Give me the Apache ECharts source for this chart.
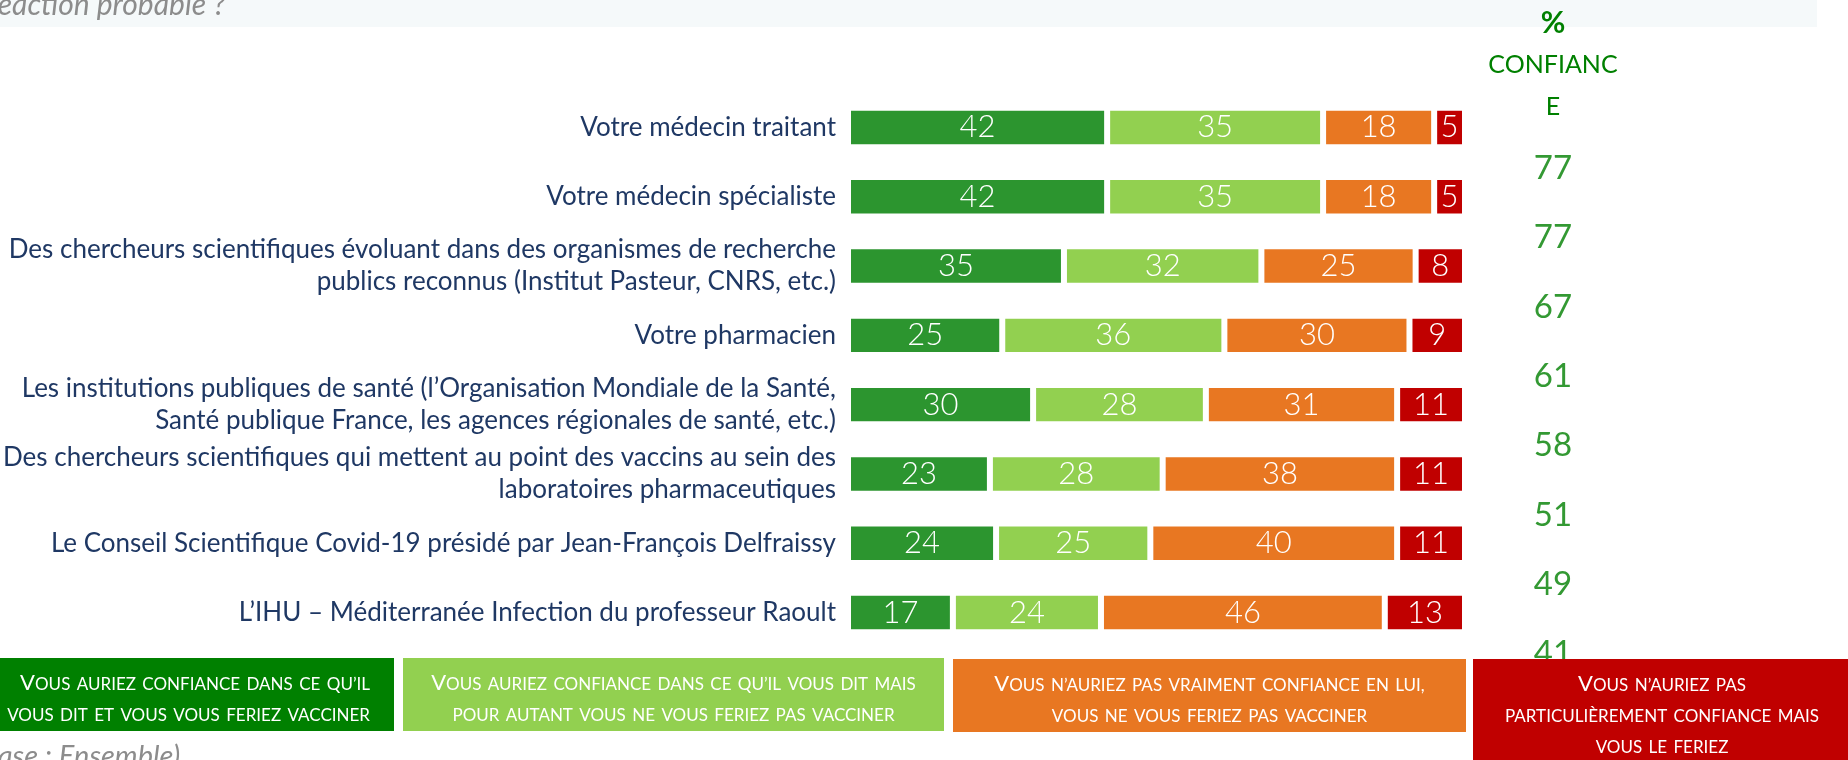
<!DOCTYPE html>
<html>
<head>
<meta charset="utf-8">
<script src="https://cdn.jsdelivr.net/npm/echarts@6/dist/echarts.min.js"></script>
<style>
  html, body { margin: 0; padding: 0; background: #fff; }
  #chart { width: 1848px; height: 760px; }
</style>
</head>
<body>
<div id="chart"></div>
<script>
// categories, top to bottom
const categories = [
  'Votre médecin traitant',
  'Votre médecin spécialiste',
  'Des chercheurs scientifiques évoluant dans des organismes de recherche\npublics reconnus (Institut Pasteur, CNRS, etc.)',
  'Votre pharmacien',
  'Les institutions publiques de santé (l’Organisation Mondiale de la Santé,\nSanté publique France, les agences régionales de santé, etc.)',
  'Des chercheurs scientifiques qui mettent au point des vaccins au sein des\nlaboratoires pharmaceutiques',
  'Le Conseil Scientifique Covid-19 présidé par Jean-François Delfraissy',
  'L’IHU – Méditerranée Infection du professeur Raoult'
]

const confianceVaccin = [42, 42, 35, 25, 30, 23, 24, 17]
const confianceSansVaccin = [35, 35, 32, 36, 28, 28, 25, 24]
const pasConfianceSansVaccin = [18, 18, 25, 30, 31, 38, 40, 46]
const pasConfianceVaccin = [5, 5, 8, 9, 11, 11, 11, 13]
const totalConfiance = [77, 77, 67, 61, 58, 51, 49, 41]

const seriesNames = [
  'Vous auriez confiance dans ce qu’il\nvous dit et vous vous feriez vacciner',
  'Vous auriez confiance dans ce qu’il vous dit mais\npour autant vous ne vous feriez pas vacciner',
  'Vous n’auriez pas vraiment confiance en lui,\nvous ne vous feriez pas vacciner',
  'Vous n’auriez pas\nparticulièrement confiance mais\nvous le feriez'
]

const barColors = ['#2c952f', '#92d050', '#e87722', '#c00000']
const boxColors = ['#008000', '#92d050', '#e87722', '#c00000']

const FONT = 'Lato, "Open Sans", sans-serif'

// fake small caps like the Office legend boxes
function smallCaps(line) {
  let out = ''
  let cur = null
  let buf = ''
  for (const ch of line) {
    const style = ch === ' ' ? 'sp' : (ch !== ch.toLowerCase() ? 'cap' : 'sc')
    if (style !== cur && buf) {
      out += `{${cur}|${buf}}`
      buf = ''
    }
    cur = style
    buf += ch.toUpperCase()
  }
  if (buf) out += `{${cur}|${buf}}`
  return out
}

const chart = echarts.init(document.getElementById('chart'), null, { renderer: 'canvas' })

// legend boxes (bottom)
const boxes = [
  { x: -30, y: 658, w: 424, h: 73, tx: 370, align: 'right' },
  { x: 403, y: 658, w: 541, h: 73, tx: 673.5, align: 'center' },
  { x: 953, y: 659, w: 513, h: 73, tx: 1209.5, align: 'center' },
  { x: 1473, y: 659, w: 380, h: 110, tx: 1662, align: 'center' }
]

const legendGraphics = []
boxes.forEach((b, i) => {
  legendGraphics.push({
    type: 'rect',
    z: 100,
    shape: { x: b.x, y: b.y, width: b.w, height: b.h },
    style: { fill: boxColors[i] }
  })
  const lines = seriesNames[i].split('\n')
  lines.forEach((ln, j) => {
    legendGraphics.push({
      type: 'text',
      z: 101,
      style: {
        x: b.tx,
        y: b.y + 20.5 + j * 31,
        text: smallCaps(ln),
        align: b.align,
        verticalAlign: 'middle',
        rich: {
          cap: { fontFamily: FONT, fontSize: 22, fill: '#fff', lineHeight: 30, verticalAlign: 'bottom' },
          sc: { fontFamily: FONT, fontSize: 17, fill: '#fff', lineHeight: 30, verticalAlign: 'bottom' },
          sp: { fontFamily: FONT, fontSize: 25, fill: '#fff', lineHeight: 30, verticalAlign: 'bottom' }
        }
      }
    })
  })
})

const option = {
  animation: false,
  backgroundColor: '#fff',
  grid: [
    { left: 848, right: 383, top: 92.8, height: 554.4, containLabel: false, outerBoundsMode: 'none' },
    // column of "% confiance" totals, shifted down like the original
    { left: 1500, width: 106, top: 133.8, height: 554.4, containLabel: false, outerBoundsMode: 'none' }
  ],
  xAxis: [
    { type: 'value', gridIndex: 0, min: 0, max: 100, show: false },
    { type: 'value', gridIndex: 1, min: 0, max: 1, show: false }
  ],
  yAxis: [
    {
      type: 'category',
      gridIndex: 0,
      inverse: true,
      data: categories,
      axisLine: { show: false },
      axisTick: { show: false },
      axisLabel: {
        interval: 0,
        margin: 12,
        color: '#1f3864',
        fontFamily: FONT,
        fontSize: 26,
        lineHeight: 32,
        align: 'right'
      }
    },
    {
      type: 'category',
      gridIndex: 1,
      inverse: true,
      data: categories,
      show: false
    }
  ],
  series: [
    [confianceVaccin, 0],
    [confianceSansVaccin, 1],
    [pasConfianceSansVaccin, 2],
    [pasConfianceVaccin, 3]
  ].map(([values, i]) => ({
    name: seriesNames[i],
    type: 'bar',
    stack: 'total',
    xAxisIndex: 0,
    yAxisIndex: 0,
    barWidth: 39.4,
    itemStyle: { color: barColors[i], borderColor: '#fff', borderWidth: 3 },
    label: {
      show: true,
      position: 'inside',
      color: '#fff',
      fontFamily: FONT,
      fontWeight: 300,
      fontSize: 31
    },
    data: values
  })).concat([
    {
      name: '% confiance',
      type: 'scatter',
      xAxisIndex: 1,
      yAxisIndex: 1,
      symbolSize: 1,
      itemStyle: { color: 'rgba(0,0,0,0)' },
      label: {
        show: true,
        position: 'inside',
        color: '#008000',
        fontFamily: FONT,
        fontSize: 33,
        formatter: p => p.value[2]
      },
      data: totalConfiance.map((v, i) => [0.5, i, v])
    }
  ]),
  graphic: [
    {
      type: 'rect',
      z: 0,
      shape: { x: 0, y: 0, width: 1817, height: 27 },
      style: { fill: '#f5f9fa' }
    },
    {
      type: 'text',
      style: {
        x: -12, y: 5,
        text: 'réaction probable ?',
        fontFamily: FONT, fontStyle: 'italic', fontSize: 30,
        fill: '#8c8c8c', verticalAlign: 'middle'
      }
    },
    {
      type: 'text',
      style: {
        x: 1553, y: 65,
        text: '{p|%}\n{t|CONFIANC}\n{t|E}',
        align: 'center', verticalAlign: 'middle',
        rich: {
          p: { fontFamily: FONT, fontWeight: 'bold', fontSize: 30, fill: '#008000', lineHeight: 42 },
          t: { fontFamily: FONT, fontSize: 25, fill: '#008000', lineHeight: 42 }
        }
      }
    },
    {
      type: 'text',
      style: {
        x: -27, y: 757,
        text: '(Base : Ensemble)',
        fontFamily: FONT, fontStyle: 'italic', fontSize: 29,
        fill: '#8c8c8c', verticalAlign: 'middle'
      }
    }
  ].concat(legendGraphics)
}

chart.setOption(option)
window.addEventListener('resize', () => chart.resize())
</script>
</body>
</html>
